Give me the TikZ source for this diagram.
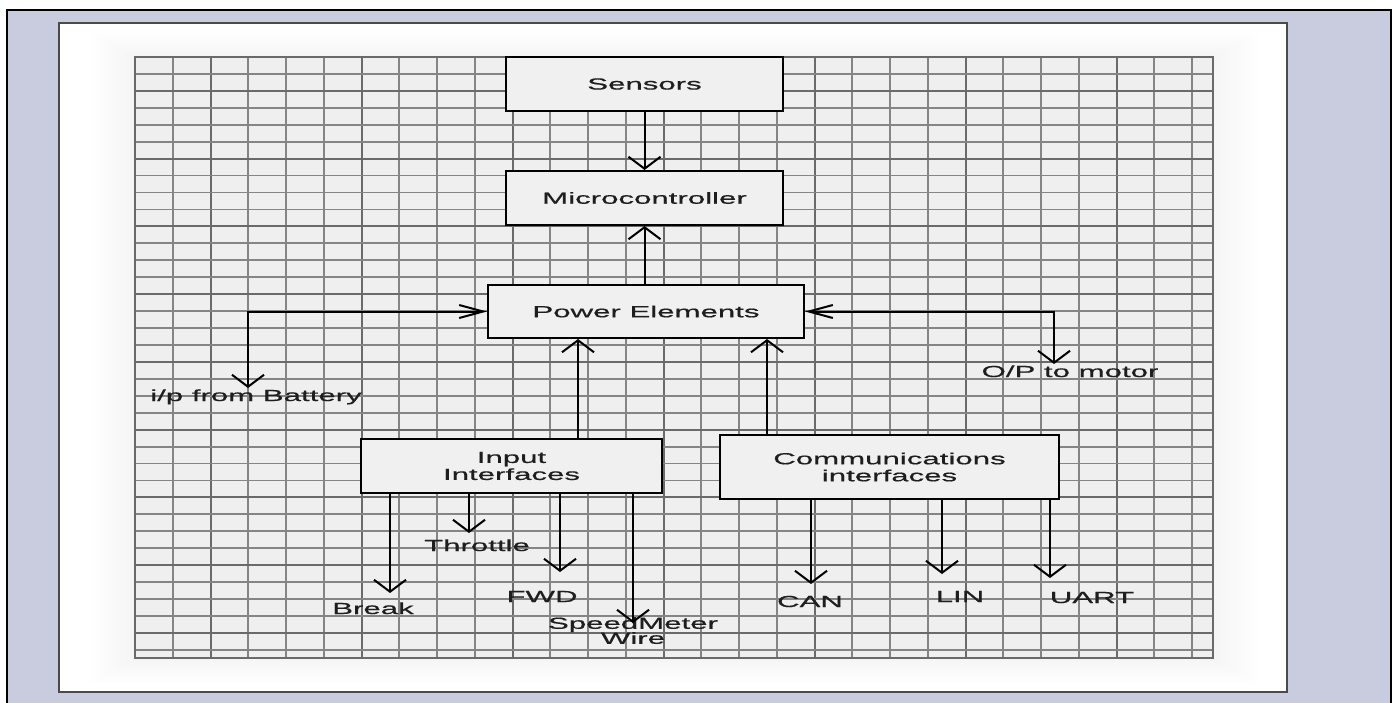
\documentclass[tikz,border=0pt]{standalone}
\usepackage{fontspec}
\newfontfamily\lblfont[FakeStretch=1.95,FakeBold=0.6]{Liberation Sans}
\usetikzlibrary{arrows.meta}
\definecolor{bgl}{HTML}{C9CCDF}
\definecolor{pgb}{HTML}{4A4A4A}
\definecolor{gridc}{HTML}{858585}
\definecolor{gridd}{HTML}{6A6A6A}
\definecolor{gridf}{HTML}{EFEFEF}
\definecolor{boxf}{HTML}{F0F0F0}
\definecolor{txt}{HTML}{1E1E1E}
\tikzset{
  vt/.tip={Straight Barb[length=12pt,width=32pt]},
  ht/.tip={Straight Barb[length=24pt,width=13pt]},
  box/.style={draw=black, line width=2pt, fill=boxf, inner sep=0pt,
    text=txt, font=\lblfont\fontsize{16}{17}\selectfont, align=center},
  lbl/.style={text=txt, font=\lblfont\fontsize{16}{15}\selectfont, align=center, inner sep=0pt},
  conn/.style={draw=black, line width=2pt},
  gline/.style={draw=gridc, line width=1.8pt},
  gdark/.style={draw=gridd, line width=2pt}
}
\begin{document}
\begin{tikzpicture}[x=1pt,y=-1pt]
\useasboundingbox (0,0) rectangle (1397,702);
% backgrounds
\fill[white] (0,0) rectangle (1397,702);
\fill[bgl] (7,10) rectangle (1391,704);
\draw[black, line width=2pt] (7,704) -- (7,10) -- (1391,10) -- (1391,704);
% page
\fill[white] (59,23) rectangle (1287,692);
\foreach \k in {0,...,9}
  \fill[black, fill opacity=0.004] ({135-45+4.5*\k},{57-25+2.5*\k}) rectangle ({1213+45-4.5*\k},{658+25-2.5*\k});
\draw[pgb, line width=2pt] (59,23) rectangle (1287,692);
% grid
\fill[gridf] (135,57) rectangle (1213,658);
\foreach \i in {0,...,28}{
  \pgfmathtruncatemacro{\m}{mod(\i,4)}
  \ifnum\m=2
    \draw[gdark] ({135+37.75*\i},57) -- ({135+37.75*\i},658);
  \else
    \draw[gline] ({135+37.75*\i},57) -- ({135+37.75*\i},658);
  \fi
}
\foreach \j in {0,...,35}{
  \pgfmathtruncatemacro{\m}{mod(\j,4)}
  \ifnum\m=2
    \draw[gdark] (135,{57+16.94*\j}) -- (1213,{57+16.94*\j});
  \else
    \draw[gline] (135,{57+16.94*\j}) -- (1213,{57+16.94*\j});
  \fi
}
\draw[gdark] (135,57) rectangle (1213,658);

% boxes
\node[box, minimum width=277pt, minimum height=54pt] (sen) at (644.5,84) {Sensors};
\node[box, minimum width=277pt, minimum height=54pt] (mic) at (644.5,198) {Microcontroller};
\node[box, minimum width=316pt, minimum height=53pt] (pw) at (646,311.5) {Power Elements};
\node[box, minimum width=301pt, minimum height=54pt] (in) at (511.5,466) {Input\\Interfaces};
\node[box, minimum width=339pt, minimum height=64pt] (cm) at (889.5,467) {Communications\\interfaces};

% coordinates
\coordinate (bat) at (248,388);
\coordinate (mot) at (1054,364);
\coordinate (ia) at (578,466);
\coordinate (ca) at (767,467);
\coordinate (brk) at (390,593);
\coordinate (thr) at (469,533);
\coordinate (fwd) at (560,572);
\coordinate (spd) at (633,623);
\coordinate (can) at (811,584);
\coordinate (lin) at (942,574);
\coordinate (uart) at (1050,578);

% labels
\node[lbl, anchor=base] (lbat) at (256,401) {i/p from Battery};
\node[lbl, anchor=base] (lmot) at (1070,377) {O/P to motor};
\node[lbl, anchor=base] (lbrk) at (373,614) {Break};
\node[lbl, anchor=base] (lthr) at (477,551) {Throttle};
\node[lbl, anchor=base] (lfwd) at (542,602) {FWD};
\node[lbl, anchor=north] (lspd) at (633,617) {SpeedMeter\\Wire};
\node[lbl, anchor=base] (lcan) at (810,607) {CAN};
\node[lbl, anchor=base] (llin) at (960,602) {LIN};
\node[lbl, anchor=base] (luart) at (1092,603) {UART};

% connectors
\draw[conn, -vt] (sen.south) -- (mic.north);
\draw[conn, -vt] (pw.north -| mic.south) -- (mic.south);
\draw[conn, ht-vt] (pw.west) -| (bat);
\draw[conn, ht-vt] (pw.east) -| (mot);
\draw[conn, -vt] (in.north -| ia) -- (pw.south -| ia);
\draw[conn, -vt] (cm.north -| ca) -- (pw.south -| ca);
\draw[conn, -vt] (in.south -| brk) -- (brk);
\draw[conn, -vt] (in.south -| thr) -- (thr);
\draw[conn, -vt] (in.south -| fwd) -- (fwd);
\draw[conn, -vt] (in.south -| spd) -- (spd);
\draw[conn, -vt] (cm.south -| can) -- (can);
\draw[conn, -vt] (cm.south -| lin) -- (lin);
\draw[conn, -vt] (cm.south -| uart) -- (uart);
\end{tikzpicture}
\end{document}
